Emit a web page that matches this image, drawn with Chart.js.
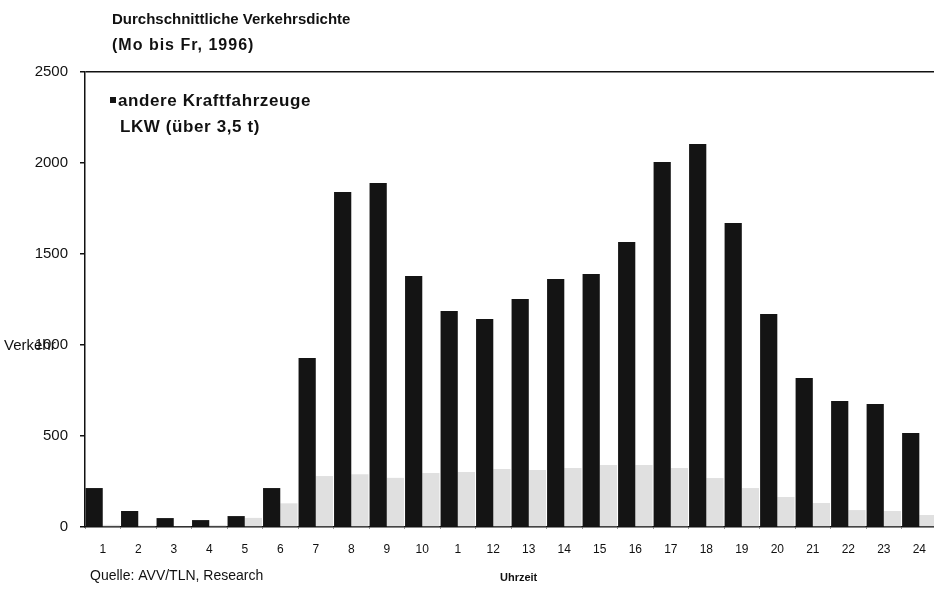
<!DOCTYPE html>
<html>
<head>
<meta charset="utf-8">
<script src="https://cdn.jsdelivr.net/npm/chart.js@4"></script>
<style>
  html, body { margin: 0; padding: 0; background: #fff; overflow: hidden; }
  #wrap { width: 939px; height: 590px; }
</style>
</head>
<body>
<div id="wrap"><canvas id="verkehr_chart" width="939" height="590"></canvas></div>
<script>
// Stunden (Uhrzeit) - beschriftung so wie im Original
const hours = ["1", "2", "3", "4", "5", "6", "7", "8", "9", "10", "1", "12",
  "13", "14", "15", "16", "17", "18", "19", "20", "21", "22", "23", "24"];

// andere Kraftfahrzeuge
const andereKfz = [214, 88, 49, 38, 60, 214, 929, 1841, 1890, 1379, 1187, 1143,
  1253, 1363, 1390, 1566, 2005, 2104, 1670, 1170, 819, 692, 676, 516];

// LKW (über 3,5 t)
const lkw = [12, 8, 5, 10, 50, 130, 280, 290, 270, 297, 302, 318,
  313, 324, 340, 340, 324, 269, 214, 165, 132, 93, 88, 66];

const yTicks = [0, 500, 1000, 1500, 2000, 2500];

const titleLines = ["Durchschnittliche Verkehrsdichte", "(Mo bis Fr, 1996)"];
const yTitle = "Verkehr";
const xTitle = "Uhrzeit";
const sourceNote = "Quelle: AVV/TLN, Research";

const FONT = "'Liberation Sans', Arial, sans-serif";

// extra texte (titel, legende, achsentitel, quelle)
const textPlugin = {
  id: "textPlugin",
  afterDraw(chart) {
    const ctx = chart.ctx;
    ctx.save();
    ctx.fillStyle = "#111";
    ctx.textBaseline = "alphabetic";
    ctx.textAlign = "left";

    ctx.font = "bold 15px " + FONT;
    ctx.letterSpacing = "0px";
    ctx.fillText(titleLines[0], 112, 24);
    ctx.font = "bold 16px " + FONT;
    ctx.letterSpacing = "1px";
    ctx.fillText(titleLines[1], 112, 50);

    // legende
    const ds = chart.data.datasets;
    ctx.font = "bold 17px " + FONT;
    ctx.letterSpacing = "0.6px";
    ds.forEach(function(d, i) {
      const y = 106 + i * 26;
      ctx.fillStyle = i === 0 ? d.backgroundColor : "#fff";
      ctx.fillRect(110, y - 9, 6, 6);
      ctx.fillStyle = "#111";
      ctx.fillText(d.label, i === 0 ? 118 : 120, y);
    });
    ctx.letterSpacing = "0px";

    ctx.font = "15px " + FONT;
    ctx.fillText(yTitle, 4, 350);

    ctx.font = "bold 11px " + FONT;
    ctx.fillText(xTitle, 500, 581);

    ctx.font = "14px " + FONT;
    ctx.fillText(sourceNote, 90, 580);
    ctx.restore();
  }
};

const chartData = {
  labels: hours,
  datasets: [
    {
      label: "andere Kraftfahrzeuge",
      data: andereKfz,
      backgroundColor: "#141414",
      categoryPercentage: 0.97,
      barPercentage: 1.0,
    },
    {
      label: "LKW (über 3,5 t)",
      data: lkw,
      backgroundColor: "#e0e0e0",
      categoryPercentage: 0.97,
      barPercentage: 1.0,
    },
  ],
};

var canvas = document.getElementById("verkehr_chart");

var verkehrChart = new Chart(canvas, {
  type: "bar",
  data: chartData,
  plugins: [textPlugin],
  options: {
    responsive: false,
    animation: false,
    devicePixelRatio: 1,
    layout: { padding: { left: 0, top: 72, right: 0, bottom: 0 } },
    plugins: {
      legend: { display: false },
      tooltip: { enabled: false },
    },
    scales: {
      x: {
        offset: true,
        afterFit: function(scale) { scale.height = 63; },
        border: { color: "#111", width: 1.5 },
        grid: {
          offset: true,
          drawOnChartArea: false,
          tickLength: 2,
          color: "#999",
        },
        ticks: {
          color: "#111",
          padding: 13,
          maxRotation: 0,
          autoSkip: false,
          font: { family: FONT, size: 12 },
        },
      },
      y: {
        min: 0,
        max: 2500,
        afterFit: function(scale) { scale.width = 85; },
        afterBuildTicks: function(scale) {
          scale.ticks = yTicks.map(function(v) { return { value: v }; });
        },
        border: { color: "#111", width: 1.5 },
        grid: {
          drawOnChartArea: true,
          tickLength: 5,
          tickColor: "#111",
          color: function(c) {
            return c.tick && c.tick.value === 2500 ? "#111" : "rgba(0,0,0,0)";
          },
          lineWidth: 1.5,
        },
        ticks: {
          color: "#111",
          padding: 12,
          font: { family: FONT, size: 15 },
          callback: function(v) { return String(v); },
        },
      },
    },
  },
});
</script>
</body>
</html>
